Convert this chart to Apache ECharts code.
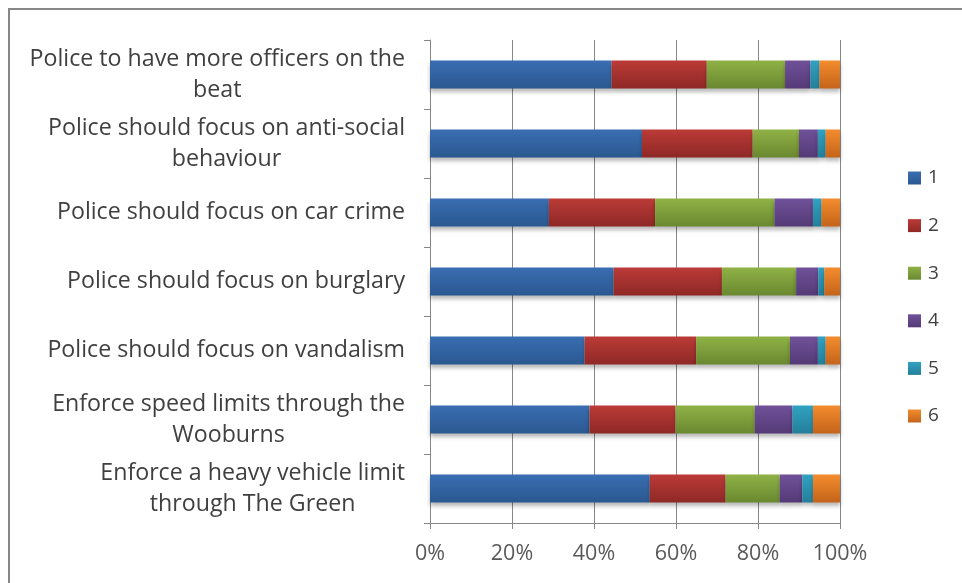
<!DOCTYPE html>
<html>
<head>
<meta charset="utf-8">
<script src="https://cdn.jsdelivr.net/npm/echarts@6/dist/echarts.min.js"></script>
<style>
html,body{margin:0;padding:0;background:#fff;}
#chart{width:962px;height:583px;}
</style>
</head>
<body>
<div id="chart"></div>
<script>
const categories = [
  "Police to have more officers on the\nbeat",
  "Police should focus on anti-social\nbehaviour",
  "Police should focus on car crime",
  "Police should focus on burglary",
  "Police should focus on vandalism",
  "Enforce speed limits through the\nWooburns",
  "Enforce a heavy vehicle limit\nthrough The Green"
];
const seriesNames = ["1", "2", "3", "4", "5", "6"];
const s1 = [44.3, 51.7, 29.0, 44.8, 37.7, 38.9, 53.6];
const s2 = [23.2, 27.0, 25.9, 26.4, 27.2, 21.0, 18.5];
const s3 = [19.1, 11.3, 29.1, 18.1, 22.9, 19.3, 13.2];
const s4 = [6.2, 4.6, 9.4, 5.4, 6.8, 9.2, 5.5];
const s5 = [2.2, 1.9, 2.1, 1.5, 1.9, 5.0, 2.6];
const s6 = [5.0, 3.5, 4.5, 3.8, 3.5, 6.6, 6.6];
const xTicks = [0, 20, 40, 60, 80, 100];

const seriesData = [s1, s2, s3, s4, s5, s6];
const colorPairs = [
  ["#3a6eb2", "#2a5890"],
  ["#bb3b37", "#8e2826"],
  ["#8fb246", "#6a8830"],
  ["#70519a", "#543a76"],
  ["#31a2c2", "#237f9a"],
  ["#f48c2e", "#c4641a"]
];
const FONT = "'Open Sans', Lato, sans-serif";
const TXT = "#404040";

const chart = echarts.init(document.getElementById('chart'));
chart.setOption({
  animation: false,
  backgroundColor: '#ffffff',
  graphic: [{
    type: 'rect', silent: true,
    shape: { x: 9, y: 9, width: 1200, height: 1000 },
    style: { fill: 'none', stroke: '#878787', lineWidth: 2 }
  }],
  grid: { left: 430, right: 122, top: 40, bottom: 60, containLabel: false },
  legend: {
    orient: 'vertical',
    left: 903,
    top: 163,
    itemWidth: 13,
    itemHeight: 13,
    itemGap: 27.6,
    icon: 'rect',
    data: seriesNames,
    textStyle: { fontFamily: FONT, fontSize: 19, color: TXT, lineHeight: 20, padding: [0, 0, 0, 2] }
  },
  xAxis: {
    type: 'value',
    min: xTicks[0],
    max: xTicks[xTicks.length - 1],
    interval: xTicks[1] - xTicks[0],
    axisLine: { show: true, lineStyle: { color: '#878787', width: 1 } },
    axisTick: { show: true, length: 6, lineStyle: { color: '#878787' } },
    splitLine: { show: true, lineStyle: { color: '#878787', width: 1 } },
    axisLabel: {
      formatter: '{value}%',
      fontFamily: FONT, fontSize: 21.5, color: '#595959', margin: 20
    }
  },
  yAxis: {
    type: 'category',
    inverse: true,
    data: categories,
    axisLine: { show: true, lineStyle: { color: '#878787', width: 1 } },
    axisTick: { show: true, length: 6, lineStyle: { color: '#878787' } },
    splitLine: { show: false },
    axisLabel: {
      margin: 25,
      formatter: function (v) {
        return v.split('\n').map(function (l) { return '{c|' + l + '}'; }).join('\n');
      },
      rich: {
        c: { align: 'center', fontFamily: FONT, fontSize: 23.2, color: TXT, lineHeight: 31 }
      }
    }
  },
  series: seriesData.map(function (d, i) {
    return {
      name: seriesNames[i],
      type: 'bar',
      stack: 'total',
      barWidth: 28,
      data: d,
      itemStyle: {
        color: new echarts.graphic.LinearGradient(0, 0, 0, 1, [
          { offset: 0, color: colorPairs[i][0] },
          { offset: 1, color: colorPairs[i][1] }
        ]),
        shadowColor: 'rgba(0,0,0,0.28)',
        shadowBlur: 4,
        shadowOffsetY: 3
      },
      emphasis: { disabled: true }
    };
  })
});
</script>
</body>
</html>
